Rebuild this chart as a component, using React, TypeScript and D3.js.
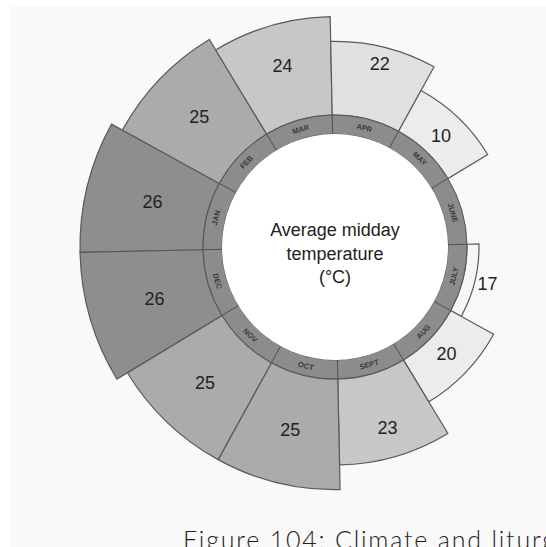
import React from "react";
import * as d3 from "d3";

// Months, clockwise starting at 9 o'clock (JAN)
const months = ["JAN", "FEB", "MAR", "APR", "MAY", "JUNE", "JULY", "AUG", "SEPT", "OCT", "NOV", "DEC"];
// Drawn bar lengths (JUNE has no bar)
const barValues: (number | null)[] = [26, 25, 24, 22, 19.8, null, 17, 20, 23, 25, 25, 26];
// Printed labels
const valueLabels: (string | null)[] = ["26", "25", "24", "22", "10", null, "17", "20", "23", "25", "25", "26"];
const centerLines = ["Average midday", "temperature", "(°C)"];
const caption = "Figure 104: Climate and liturgical";

const W = 546;
const H = 547;
const cx = 335;
const cy = 247;
const innerR = 113;
const bandR = 132;
const offsetDeg = -1.2;

const rScale = d3.scaleLinear().domain([17, 26]).range([144, 255]);
const fillScale = d3
  .scaleThreshold<number, string>()
  .domain([18, 21, 23, 25, 26])
  .range(["#f6f6f6", "#ececec", "#e0e0e0", "#c7c7c7", "#ababab", "#8e8e8e"]);

const toRad = (deg: number) => (deg * Math.PI) / 180;

export default function App() {
  const step = 360 / months.length;
  const startDeg = (i: number) => 270 + i * step + offsetDeg;
  const arc = d3.arc<any>();

  return (
    <svg
      width={W}
      height={H}
      style={{ position: "absolute", left: 0, top: 0 }}
      xmlns="http://www.w3.org/2000/svg"
    >
      <rect x={0} y={0} width={W} height={H} fill="#ffffff" />
      <rect x={10} y={6} width={W - 10} height={H - 6} fill="#f9f9f9" />
      <g transform={`translate(${cx},${cy})`}>
        {/* bars */}
        {months.map((m, i) => {
          const v = barValues[i];
          if (v == null) return null;
          const a0 = toRad(startDeg(i));
          const a1 = toRad(startDeg(i) + step);
          const d = arc({ innerRadius: bandR, outerRadius: rScale(v), startAngle: a0, endAngle: a1 }) as string;
          return <path key={"bar" + m} d={d} fill={fillScale(v)} stroke="#5a5a5a" strokeWidth={1.2} />;
        })}
        {/* band */}
        {months.map((m, i) => {
          const a0 = toRad(startDeg(i));
          const a1 = toRad(startDeg(i) + step);
          const d = arc({ innerRadius: innerR, outerRadius: bandR, startAngle: a0, endAngle: a1 }) as string;
          return <path key={"band" + m} d={d} fill="#8c8c8c" stroke="#555" strokeWidth={1} />;
        })}
        <circle r={innerR} fill="#ffffff" />
        {/* month labels */}
        {months.map((m, i) => {
          const mid = startDeg(i) + step / 2;
          const norm = ((mid % 360) + 360) % 360;
          const r = (innerR + bandR) / 2;
          const x = r * Math.sin(toRad(norm));
          const y = -r * Math.cos(toRad(norm));
          const rot = norm > 90 && norm < 270 ? norm - 180 : norm;
          return (
            <text
              key={"ml" + m}
              transform={`translate(${x},${y}) rotate(${rot})`}
              textAnchor="middle"
              dominantBaseline="central"
              fontFamily="Liberation Sans, Arial, sans-serif"
              fontSize={7.5}
              fontWeight="bold"
              fill="#3a3a3a"
            >
              {m}
            </text>
          );
        })}
        {/* value labels */}
        {months.map((m, i) => {
          const v = barValues[i];
          const lab = valueLabels[i];
          if (v == null || lab == null) return null;
          const outer = rScale(v);
          let r: number;
          if (outer - bandR < 30) r = outer + 13;
          else if (outer < 200) r = (bandR + outer) / 2 - 2;
          else r = 188;
          const mid = toRad(startDeg(i) + step / 2);
          const x = r * Math.sin(mid);
          const y = -r * Math.cos(mid);
          return (
            <text
              key={"vl" + m}
              x={x}
              y={y}
              textAnchor="middle"
              dominantBaseline="central"
              fontFamily="Liberation Sans, Arial, sans-serif"
              fontSize={18}
              fill="#222"
            >
              {lab}
            </text>
          );
        })}
        {/* center text */}
        {centerLines.map((t, k) => (
          <text
            key={"c" + k}
            x={0}
            y={-11 + k * 23.5}
            textAnchor="middle"
            fontFamily="Liberation Sans, Arial, sans-serif"
            fontSize={18}
            fill="#222"
          >
            {t}
          </text>
        ))}
      </g>
      <text
        x={183}
        y={549}
        fontFamily="Lato, 'Open Sans', sans-serif"
        fontWeight={300}
        fontSize={25}
        letterSpacing={1.8}
        fill="#222"
      >
        {caption}
      </text>
    </svg>
  );
}
